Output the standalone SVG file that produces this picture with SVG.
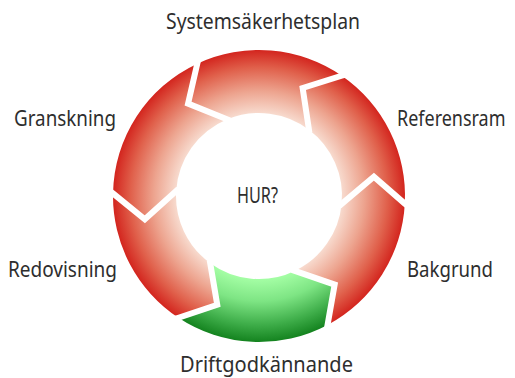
<svg xmlns="http://www.w3.org/2000/svg" width="515" height="378" viewBox="0 0 515 378">
  <style>
    .label { font-family: "Noto Sans", "Open Sans", "DejaVu Sans", sans-serif; font-size: 21px; fill: #2e2e2e; }
    .red { fill: url(#gradRed); }
    .green { fill: url(#gradGreen); }
    .sep { fill: none; stroke: #ffffff; stroke-width: 6; stroke-linejoin: miter; stroke-linecap: square; }
  </style>
  <defs>
    <!-- radial shading across the ring: light at the inner edge, saturated at the rim -->
    <radialGradient id="gradRed" gradientUnits="userSpaceOnUse" cx="259" cy="196" r="146">
      <stop offset="0.56" stop-color="#f8ddd1"/>
      <stop offset="0.72" stop-color="#eda48f"/>
      <stop offset="0.88" stop-color="#e0604b"/>
      <stop offset="1" stop-color="#d3251e"/>
    </radialGradient>
    <radialGradient id="gradGreen" gradientUnits="userSpaceOnUse" cx="259" cy="196" r="146">
      <stop offset="0.56" stop-color="#a6ffa6"/>
      <stop offset="0.72" stop-color="#7ee584"/>
      <stop offset="0.88" stop-color="#3fae4a"/>
      <stop offset="1" stop-color="#14831f"/>
    </radialGradient>
  </defs>

  <rect width="515" height="378" fill="#ffffff"/>

  <!-- cycle stages: ring segment plus its caption -->
  <g id="stage-systemsakerhetsplan">
    <path class="red" d="M197.30,63.68 A146,146 0 0 1 341.70,75.68 L302.64,87.98 L308.95,129.71 A83,83 0 0 0 227.24,119.32 L188.08,103.57 Z"/>
    <text class="label" x="166" y="29" textLength="194" lengthAdjust="spacingAndGlyphs">Systemsäkerhetsplan</text>
  </g>
  <g id="stage-referensram">
    <path class="red" d="M341.70,75.68 A146,146 0 0 1 404.80,203.64 L373.90,176.77 L341.62,203.96 A83,83 0 0 0 308.95,129.71 L302.64,87.98 Z"/>
    <!-- narrowed horizontally so the caption stays inside the right edge -->
    <text class="label" transform="translate(397,126) scale(0.875,1)" x="0" y="0" textLength="124" lengthAdjust="spacingAndGlyphs">Referensram</text>
  </g>
  <g id="stage-bakgrund">
    <path class="red" d="M404.80,203.64 A146,146 0 0 1 327.54,324.91 L334.66,284.59 L294.73,270.91 A83,83 0 0 0 341.62,203.96 L373.90,176.77 Z"/>
    <text class="label" x="407" y="277" textLength="86" lengthAdjust="spacingAndGlyphs">Bakgrund</text>
  </g>
  <g id="stage-driftgodkannande">
    <path class="green" d="M327.54,324.91 A146,146 0 0 1 178.42,317.75 L217.25,304.76 L210.21,263.15 A83,83 0 0 0 294.73,270.91 L334.66,284.59 Z"/>
    <text class="label" x="180" y="372" textLength="173" lengthAdjust="spacingAndGlyphs">Driftgodkännande</text>
  </g>
  <g id="stage-redovisning">
    <path class="red" d="M178.42,317.75 A146,146 0 0 1 113.02,193.45 L144.84,219.23 L176.16,190.93 A83,83 0 0 0 210.21,263.15 L217.25,304.76 Z"/>
    <text class="label" x="8" y="277" textLength="109" lengthAdjust="spacingAndGlyphs">Redovisning</text>
  </g>
  <g id="stage-granskning">
    <path class="red" d="M113.02,193.45 A146,146 0 0 1 197.30,63.68 L188.08,103.57 L227.24,119.32 A83,83 0 0 0 176.16,190.93 L144.84,219.23 Z"/>
    <text class="label" x="14" y="126" textLength="102" lengthAdjust="spacingAndGlyphs">Granskning</text>
  </g>

  <!-- white chevron gaps between the segments -->
  <g id="separators">
    <polyline class="sep" points="404.80,203.64 373.90,176.77 341.62,203.96"/>
    <polyline class="sep" points="327.54,324.91 334.66,284.59 294.73,270.91"/>
    <polyline class="sep" points="178.42,317.75 217.25,304.76 210.21,263.15"/>
    <polyline class="sep" points="113.02,193.45 144.84,219.23 176.16,190.93"/>
    <polyline class="sep" points="197.30,63.68 188.08,103.57 227.24,119.32"/>
    <polyline class="sep" points="341.70,75.68 302.64,87.98 308.95,129.71"/>
  </g>

  <g id="center">
    <text class="label" x="237" y="203" textLength="41" lengthAdjust="spacingAndGlyphs">HUR?</text>
  </g>
</svg>
